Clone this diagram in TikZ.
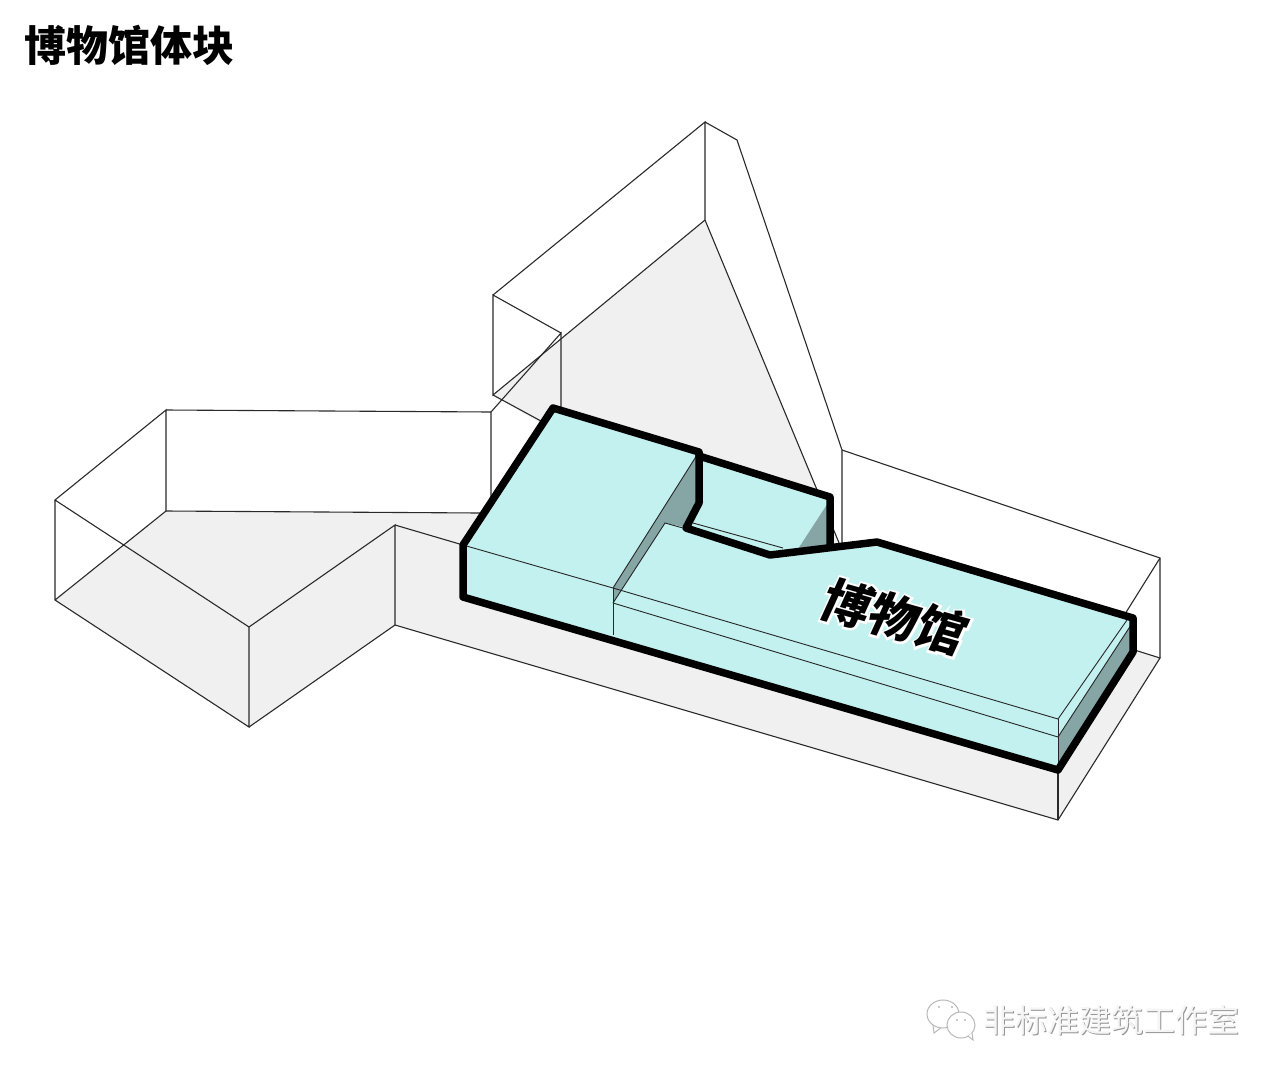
\documentclass[tikz,border=0pt]{standalone}
\usepackage{fontspec}
\newfontfamily\cjk{Noto Sans CJK SC}
\newfontfamily\cjkhalo{Noto Sans CJK SC}[FakeBold=9]
\definecolor{floorgray}{HTML}{F0F0F0}
\definecolor{museumcyan}{HTML}{C2F1F0}
\definecolor{museumdark}{HTML}{86A5A5}
\definecolor{wirecol}{HTML}{2A2A2A}
\tikzset{
  wire/.style={draw=wirecol,line width=1.1pt,line join=miter},
  thinedge/.style={draw=black!85,line width=0.9pt},
  thick outline/.style={draw=black,line width=7.5pt,line join=round,line cap=round},
  wmshadow/.style={text=black!42,font=\cjk\fontsize{32}{32}\selectfont,inner sep=0pt},
  wmface/.style={text=black!4,font=\cjk\fontsize{32}{32}\selectfont,inner sep=0pt},
  bubble/.style={draw=black!28,line width=1pt,fill=white},
}
\begin{document}
\begin{tikzpicture}[x=1pt,y=-1pt]
\useasboundingbox (0,0) rectangle (1280,1077);
\fill[white] (0,0) rectangle (1280,1077);
% ground
\fill[floorgray] (55,600)--(166,511)--(491,513)--(491,520)--(552,430)--(493,395)--(705,220)--(842,550)--(1135,650)--(1160,658)--(1058,820)--(395,625)--(249,727)--cycle;
% wireframe
\draw[wire] (55,500)--(55,600)--(249,727)--(249,627)--(55,500)--(166,410)--(166,511)--(55,600);
\draw[wire] (166,410)--(491,412)--(491,520);
\draw[wire] (166,511)--(480,513);
\draw[wire] (249,627)--(395,525)--(395,625)--(249,727);
\draw[wire] (395,525)--(480,550);
\draw[wire] (395,625)--(1058,820)--(1160,658)--(1125,647);
\draw[wire] (1058,720)--(1058,820);
\draw[wire] (491,412)--(561,333)--(561,420);
\draw[wire] (561,333)--(493,295)--(493,395)--(705,220)--(705,122)--(493,295);
\draw[wire] (493,395)--(552,427);
\draw[wire] (705,122)--(737,140)--(842,450)--(842,552);
\draw[wire] (705,220)--(842,550);
\draw[wire] (842,450)--(1160,558)--(1160,658);
\draw[wire] (1160,558)--(1120,622);
% museum
\fill[museumcyan] (463,545)--(553,408)--(699,452)--(830,497)--(830,545)--(877,542)--(1133,618)--(1133,652)--(1058,770)--(463,597)--cycle;
\fill[museumdark] (613,588)--(697,455)--(697,503)--(684,527)--(665,523)--(613,603)--cycle;
\fill[museumdark] (828,503)--(828,546)--(798,549)--cycle;
\fill[museumdark] (1058,737)--(1131,625)--(1131,652)--(1058,765)--cycle;
\draw[thinedge] (463,545)--(613,588)--(1058,719)--(1127,620);
\draw[thinedge] (613,603)--(1058,737)--(1131,625);
\draw[thinedge] (613,588)--(613,635);
\draw[thinedge] (613,588)--(697,455);
\draw[thinedge] (613,603)--(665,523)--(690,530);
\draw[thinedge] (693,523)--(783,548);
\draw[thinedge] (1058,719)--(1058,765);
% thick outline
\draw[thick outline] (463,545)--(553,408)--(699,452)--(699,503)--(686,528)--(770,555)--(877,542)--(1133,618)--(1133,652)--(1058,770)--(463,597)--cycle;
\draw[thick outline] (699,456)--(830,497)--(830,546);
% label on the roof
\begin{scope}[shift={(895,617)}]
\node (roofHalo) [text=white,inner sep=0pt,font=\cjkhalo\bfseries\fontsize{49}{49}\selectfont,cm={0.96,-0.27,0.42,0.92,(0,0)}] at (0,0) {博物馆};
\node (roofLabel) [text=black,inner sep=0pt,font=\cjk\bfseries\fontsize{49}{49}\selectfont,cm={0.96,-0.27,0.42,0.92,(0,0)}] at (0,0) {博物馆};
\end{scope}
% title
\node (title) [text=black,inner sep=0pt,font=\cjk\bfseries\fontsize{42}{42}\selectfont] at (129.5,45) {博物馆体块};
% watermark
\draw[bubble] (933,1025)--(934,1033)--(942,1027);
\draw[bubble] (943,1014) ellipse (16 and 14);
\draw[bubble] (961,1025) ellipse (14 and 13);
\draw[bubble] (968,1036)--(973,1040)--(972,1033);
\fill[black!28] (939,1007) circle (1.2) (952,1007) circle (1.2) (957,1020) circle (1.2) (965,1020) circle (1.2);
\node[wmshadow] at (1112,1021) {非标准建筑工作室};
\node (watermark) [wmface] at (1111.2,1020.2) {非标准建筑工作室};
\end{tikzpicture}
\end{document}
